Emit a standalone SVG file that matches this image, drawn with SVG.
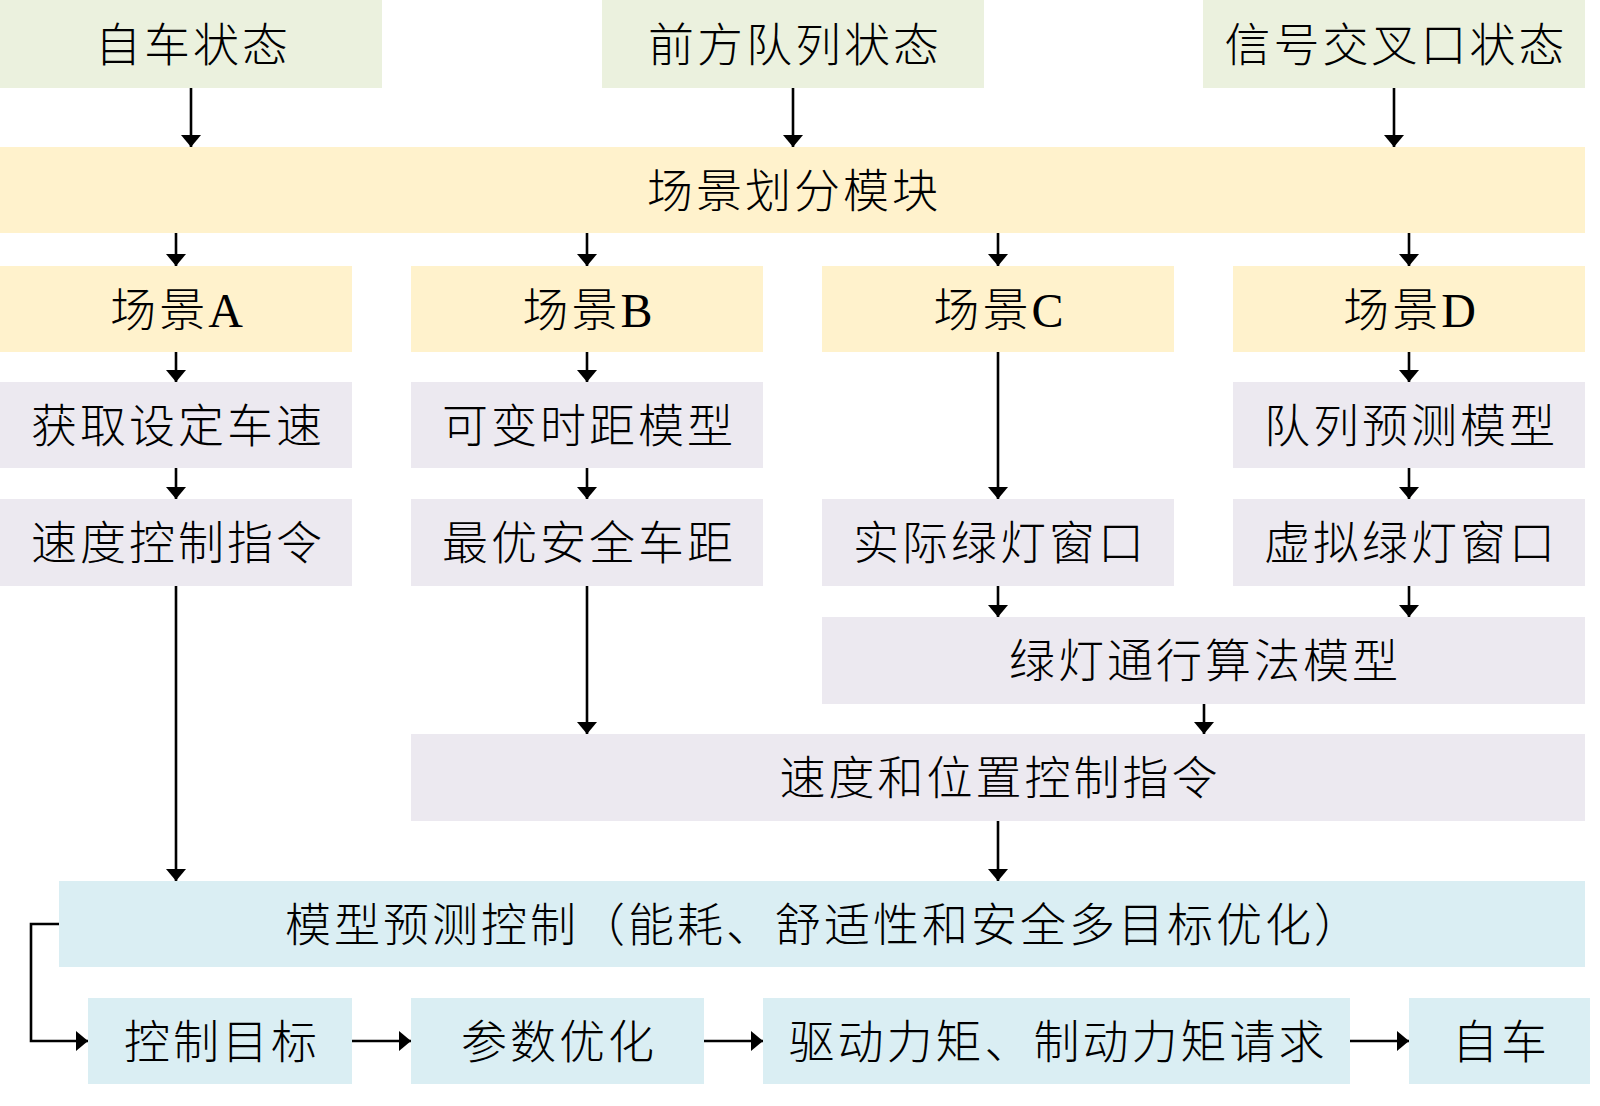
<svg xmlns="http://www.w3.org/2000/svg" width="1600" height="1106" viewBox="0 0 1600 1106">
<style>
text{font-family:"Liberation Serif","Noto Sans CJK SC",serif;font-size:46px;font-weight:300;letter-spacing:3px;fill:#000;text-anchor:middle;dominant-baseline:central}
.g{fill:#EBF1DE}.y{fill:#FFF2CC}.p{fill:#ECE9F0}.b{fill:#DAEEF3}
.c path,.c line{stroke:#000;stroke-width:2.6;fill:none}
</style>
<defs>
<marker id="ah" markerUnits="userSpaceOnUse" markerWidth="12" markerHeight="20" viewBox="0 0 12 20" refX="12" refY="10" orient="auto">
<path d="M0,0 L12,10 L0,20 z" fill="#000"/>
</marker>
</defs>
<rect width="1600" height="1106" fill="#fff"/>
<g id="n-self"><rect class="g" x="0" y="0" width="382" height="88"/><text x="193" y="45">自车状态</text></g>
<g id="n-front"><rect class="g" x="602" y="0" width="382" height="88"/><text x="795" y="45">前方队列状态</text></g>
<g id="n-signal"><rect class="g" x="1203" y="0" width="382" height="88"/><text x="1396" y="45">信号交叉口状态</text></g>
<g id="n-split"><rect class="y" x="0" y="147" width="1585" height="86"/><text x="794" y="191">场景划分模块</text></g>
<g id="n-A"><rect class="y" x="0" y="266" width="352" height="86"/><text x="178" y="310">场景<tspan font-size="48">A</tspan></text></g>
<g id="n-B"><rect class="y" x="411" y="266" width="352" height="86"/><text x="589" y="310">场景<tspan font-size="48">B</tspan></text></g>
<g id="n-C"><rect class="y" x="822" y="266" width="352" height="86"/><text x="1000" y="310">场景<tspan font-size="48">C</tspan></text></g>
<g id="n-D"><rect class="y" x="1233" y="266" width="352" height="86"/><text x="1411" y="310">场景<tspan font-size="48">D</tspan></text></g>
<g id="n-setspeed"><rect class="p" x="0" y="382" width="352" height="86"/><text x="178" y="426">获取设定车速</text></g>
<g id="n-vtg"><rect class="p" x="411" y="382" width="352" height="86"/><text x="589" y="426">可变时距模型</text></g>
<g id="n-platoon"><rect class="p" x="1233" y="382" width="352" height="86"/><text x="1411" y="426">队列预测模型</text></g>
<g id="n-speedcmd"><rect class="p" x="0" y="499" width="352" height="87"/><text x="178" y="543">速度控制指令</text></g>
<g id="n-gap"><rect class="p" x="411" y="499" width="352" height="87"/><text x="589" y="543">最优安全车距</text></g>
<g id="n-realgreen"><rect class="p" x="822" y="499" width="352" height="87"/><text x="1000" y="543">实际绿灯窗口</text></g>
<g id="n-virtgreen"><rect class="p" x="1233" y="499" width="352" height="87"/><text x="1411" y="543">虚拟绿灯窗口</text></g>
<g id="n-glosa"><rect class="p" x="822" y="617" width="763" height="87"/><text x="1205" y="661">绿灯通行算法模型</text></g>
<g id="n-spdpos"><rect class="p" x="411" y="734" width="1174" height="87"/><text x="1000" y="778">速度和位置控制指令</text></g>
<g id="n-mpc"><rect class="b" x="59" y="881" width="1526" height="86"/><text x="824" y="925">模型预测控制（能耗、舒适性和安全多目标优化）</text></g>
<g id="n-target"><rect class="b" x="88" y="998" width="264" height="86"/><text x="222" y="1042">控制目标</text></g>
<g id="n-param"><rect class="b" x="411" y="998" width="293" height="86"/><text x="559" y="1042">参数优化</text></g>
<g id="n-torque"><rect class="b" x="763" y="998" width="587" height="86"/><text x="1058" y="1042">驱动力矩、制动力矩请求</text></g>
<g id="n-ego"><rect class="b" x="1409" y="998" width="181" height="86"/><text x="1501" y="1042">自车</text></g>
<g id="connectors" class="c">
<line x1="191" y1="88" x2="191" y2="147" marker-end="url(#ah)"/>
<line x1="793" y1="88" x2="793" y2="147" marker-end="url(#ah)"/>
<line x1="1394" y1="88" x2="1394" y2="147" marker-end="url(#ah)"/>
<line x1="176" y1="233" x2="176" y2="266" marker-end="url(#ah)"/>
<line x1="587" y1="233" x2="587" y2="266" marker-end="url(#ah)"/>
<line x1="998" y1="233" x2="998" y2="266" marker-end="url(#ah)"/>
<line x1="1409" y1="233" x2="1409" y2="266" marker-end="url(#ah)"/>
<line x1="176" y1="352" x2="176" y2="382" marker-end="url(#ah)"/>
<line x1="587" y1="352" x2="587" y2="382" marker-end="url(#ah)"/>
<line x1="998" y1="352" x2="998" y2="499" marker-end="url(#ah)"/>
<line x1="1409" y1="352" x2="1409" y2="382" marker-end="url(#ah)"/>
<line x1="176" y1="468" x2="176" y2="499" marker-end="url(#ah)"/>
<line x1="587" y1="468" x2="587" y2="499" marker-end="url(#ah)"/>
<line x1="1409" y1="468" x2="1409" y2="499" marker-end="url(#ah)"/>
<line x1="998" y1="586" x2="998" y2="617" marker-end="url(#ah)"/>
<line x1="1409" y1="586" x2="1409" y2="617" marker-end="url(#ah)"/>
<line x1="176" y1="586" x2="176" y2="881" marker-end="url(#ah)"/>
<line x1="587" y1="586" x2="587" y2="734" marker-end="url(#ah)"/>
<line x1="1204" y1="704" x2="1204" y2="734" marker-end="url(#ah)"/>
<line x1="998" y1="821" x2="998" y2="881" marker-end="url(#ah)"/>
<path d="M59,924 H31 V1041 H88" marker-end="url(#ah)"/>
<line x1="352" y1="1041" x2="411" y2="1041" marker-end="url(#ah)"/>
<line x1="704" y1="1041" x2="763" y2="1041" marker-end="url(#ah)"/>
<line x1="1350" y1="1041" x2="1409" y2="1041" marker-end="url(#ah)"/>
</g>
</svg>
